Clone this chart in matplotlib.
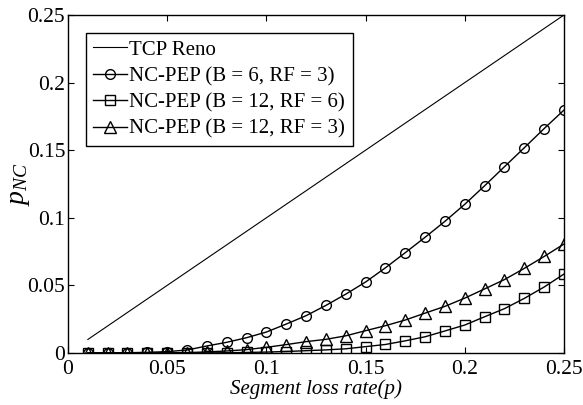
import matplotlib
matplotlib.use("Agg")
import matplotlib.pyplot as plt
import numpy as np

plt.rcParams['font.family'] = ['Liberation Serif', 'DejaVu Serif']
plt.rcParams['mathtext.fontset'] = 'custom'
plt.rcParams['mathtext.it'] = 'Liberation Serif:italic'
plt.rcParams['mathtext.rm'] = 'Liberation Serif'

# segment loss rate p
p = [0.01, 0.02, 0.03, 0.04, 0.05, 0.06, 0.07, 0.08, 0.09, 0.10, 0.11, 0.12, 0.13,
     0.14, 0.15, 0.16, 0.17, 0.18, 0.19, 0.20, 0.21, 0.22, 0.23, 0.24, 0.25]

tcp_reno = [0.01, 0.02, 0.03, 0.04, 0.05, 0.06, 0.07, 0.08, 0.09, 0.10, 0.11, 0.12, 0.13,
            0.14, 0.15, 0.16, 0.17, 0.18, 0.19, 0.20, 0.21, 0.22, 0.23, 0.24, 0.25]

nc_b6_rf3 = [0.0, 0.0001, 0.0002, 0.0005, 0.001, 0.0022, 0.0052, 0.0079, 0.0113, 0.0155,
             0.0214, 0.0276, 0.0352, 0.0435, 0.0525, 0.063, 0.0742, 0.0856, 0.0974, 0.110,
             0.1237, 0.1378, 0.1518, 0.166, 0.1797]

nc_b12_rf6 = [0.0, 0.0, 0.0, 0.0, 0.0, 0.0, 0.0001, 0.0002, 0.0004, 0.0007,
              0.0011, 0.0017, 0.0023, 0.0031, 0.0047, 0.0063, 0.009, 0.012, 0.0163, 0.0207,
              0.0268, 0.0328, 0.0404, 0.0488, 0.0584]

nc_b12_rf3 = [0.0, 0.0, 0.0, 0.0, 0.0001, 0.0003, 0.0008, 0.0015, 0.0025, 0.0042,
              0.0062, 0.0084, 0.0101, 0.0127, 0.0165, 0.0202, 0.0244, 0.0295, 0.0345, 0.0406,
              0.0474, 0.0543, 0.0626, 0.0714, 0.0806]

fig = plt.figure(figsize=(5.83, 4.05), dpi=100)
ax = fig.add_axes([0.1166, 0.1284, 0.8508, 0.8346])

ax.plot(p, tcp_reno, color='black', linewidth=0.8, label='TCP Reno')
ax.plot(p, nc_b6_rf3, color='black', linewidth=1.0, marker='o', markersize=7,
        markerfacecolor='none', markeredgewidth=1.0, label='NC-PEP (B = 6, RF = 3)')
ax.plot(p, nc_b12_rf6, color='black', linewidth=1.0, marker='s', markersize=6.5,
        markerfacecolor='none', markeredgewidth=1.0, label='NC-PEP (B = 12, RF = 6)')
ax.plot(p, nc_b12_rf3, color='black', linewidth=1.0, marker='^', markersize=8,
        markerfacecolor='none', markeredgewidth=1.0, label='NC-PEP (B = 12, RF = 3)')

ax.set_xlim(0, 0.25)
ax.set_ylim(0, 0.25)
ticks = [0, 0.05, 0.1, 0.15, 0.2, 0.25]
ax.set_xticks(ticks)
ax.set_yticks(ticks)
ax.set_xticklabels(['0', '0.05', '0.1', '0.15', '0.2', '0.25'])
ax.set_yticklabels(['0', '0.05', '0.1', '0.15', '0.2', '0.25'])
ax.tick_params(direction='in', top=True, right=True, labelsize=15.5, length=4)
ax.tick_params(axis='x', pad=5)
ax.tick_params(axis='y', pad=2)
for s in ax.spines.values():
    s.set_linewidth(1.0)

ax.set_xlabel('Segment loss rate(p)', fontsize=15, style='italic', labelpad=0)
ax.set_ylabel('$p_{NC}$', fontsize=20)
ax.yaxis.set_label_coords(-0.072, 0.5)

leg = ax.legend(loc='upper left', fontsize=15, handlelength=1.65, handletextpad=0.1,
                borderpad=0.35, labelspacing=0.33, borderaxespad=0.85, fancybox=False,
                framealpha=1, edgecolor='black')
leg.get_frame().set_linewidth(1.0)

fig.savefig('out.png', dpi=100)
